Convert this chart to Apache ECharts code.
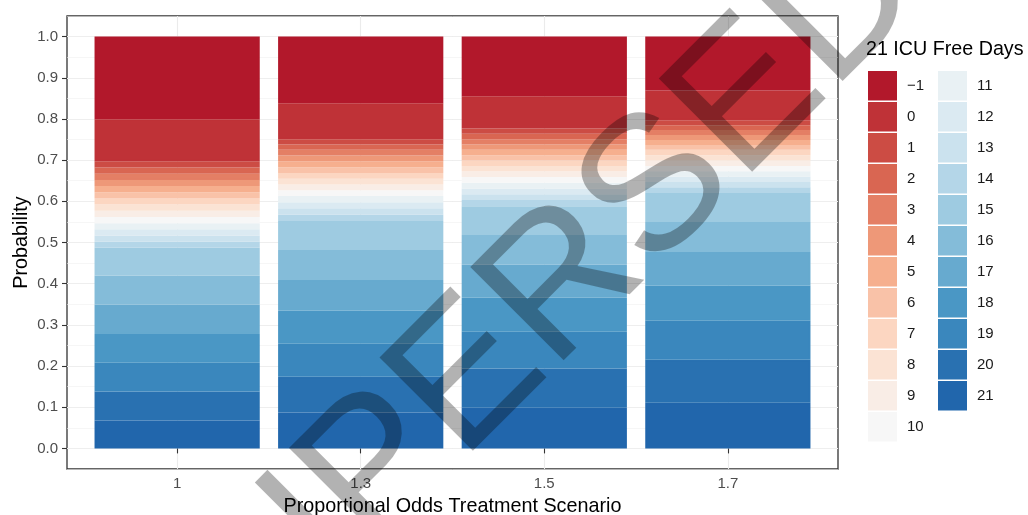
<!DOCTYPE html>
<html>
<head>
<meta charset="utf-8">
<script src="https://cdn.jsdelivr.net/npm/echarts@6/dist/echarts.min.js"></script>
<style>
  html, body { margin: 0; background: #fff; }
  #chart { width: 1028px; height: 515px; }
</style>
</head>
<body>
<div id="chart"></div>
<script>
// treatment scenarios (odds ratios) on the x axis
const scenarios = ["1", "1.3", "1.5", "1.7"];

// outcome levels, top of the stack first
const levels = ["\u22121", "0", "1", "2", "3", "4", "5", "6", "7", "8", "9", "10",
  "11", "12", "13", "14", "15", "16", "17", "18", "19", "20", "21"];

// probability of each level (same order as levels)
const probOR10 = [0.201, 0.102, 0.015, 0.015, 0.015, 0.015, 0.015, 0.015, 0.015, 0.015, 0.015, 0.015,
  0.015, 0.015, 0.015, 0.015, 0.068, 0.070, 0.071, 0.070, 0.070, 0.070, 0.068];
const probOR13 = [0.162, 0.087, 0.013, 0.013, 0.014, 0.014, 0.014, 0.014, 0.014, 0.014, 0.014, 0.014,
  0.015, 0.015, 0.015, 0.016, 0.070, 0.073, 0.075, 0.080, 0.080, 0.087, 0.087];
const probOR15 = [0.145, 0.078, 0.013, 0.013, 0.013, 0.013, 0.013, 0.013, 0.013, 0.013, 0.014, 0.014,
  0.014, 0.014, 0.014, 0.015, 0.070, 0.072, 0.080, 0.083, 0.089, 0.095, 0.099];
const probOR17 = [0.131, 0.072, 0.012, 0.012, 0.012, 0.012, 0.012, 0.012, 0.013, 0.013, 0.013, 0.013,
  0.013, 0.013, 0.013, 0.014, 0.070, 0.073, 0.082, 0.085, 0.095, 0.104, 0.111];

const yTicks = [0, 0.1, 0.2, 0.3, 0.4, 0.5, 0.6, 0.7, 0.8, 0.9, 1.0];

// RdBu ramp, one colour per level
const levelColors = ["#B2182B", "#BF3237", "#CC4C44", "#D96652", "#E47F65", "#EE9878", "#F6AF8E",
  "#F9C2A8", "#FCD6C1", "#FBE3D4", "#F9EDE6", "#F7F7F7", "#E9F1F4", "#DBEAF2", "#CBE2EE",
  "#B4D6E8", "#9ECBE1", "#84BCD9", "#67AACF", "#4A97C5", "#3A87BD", "#2971B1", "#2166AC"];

const FONT = "Liberation Sans, Arial, Helvetica, sans-serif";
const probs = [probOR10, probOR13, probOR15, probOR17];

// ECharts stacks in series order, so the bottom level (21) goes first.
// value goes in column 0 so the stack runs on y, not on the (numeric) x position
const series = [];
for (let i = levels.length - 1; i >= 0; i--) {
  series.push({
    name: levels[i],
    type: "bar",
    stack: "p",
    barWidth: "90%",
    yAxisIndex: 0,
    encode: { x: 1, y: 0 },
    // border in the same colour hides the anti-alias seams between segments
    itemStyle: { color: levelColors[i], borderColor: levelColors[i], borderWidth: 1.5 },
    emphasis: { disabled: true },
    data: scenarios.map((s, j) => [probs[j][i], j + 1])
  });
}

const legendBase = {
  orient: "vertical",
  top: 71,
  padding: 0,
  itemWidth: 29,
  itemHeight: 29.5,
  itemGap: 1.5,
  icon: "rect",
  selectedMode: false,
  itemStyle: { borderWidth: 0 },
  textStyle: { fontFamily: FONT, fontSize: 15, color: "#1a1a1a", padding: [0, 0, 0, 5] }
};

const option = {
  animation: false,
  title: {
    text: "21 ICU Free Days",
    left: 866,
    top: 40,
    padding: 0,
    textStyle: { fontFamily: FONT, fontSize: 19.7, fontWeight: "normal", color: "#000" }
  },
  legend: [
    Object.assign({}, legendBase, { left: 868, data: levels.slice(0, 12) }),
    Object.assign({}, legendBase, { left: 938, data: levels.slice(12) })
  ],
  grid: {
    left: 67, right: 190, top: 16, bottom: 46,
    outerBoundsMode: "none",
    containLabel: false,
    show: true, borderColor: "#333", borderWidth: 1.3, backgroundColor: "transparent"
  },
  xAxis: {
    type: "value",
    min: 0.4,
    max: 4.6,
    name: "Proportional Odds Treatment Scenario",
    nameLocation: "middle",
    nameGap: 28,
    nameTextStyle: { fontFamily: FONT, fontSize: 19.8, color: "#000" },
    axisLine: { show: false },
    axisTick: { show: true, length: 5, customValues: [1, 2, 3, 4], lineStyle: { color: "#333", width: 1.1 } },
    axisLabel: {
      customValues: [1, 2, 3, 4],
      margin: 7,
      fontFamily: FONT, fontSize: 15, color: "#4D4D4D",
      formatter: v => scenarios[Math.round(v) - 1]
    },
    splitLine: { show: true, lineStyle: { color: "#EBEBEB", width: 1.1 } }
  },
  yAxis: [
    {
      type: "value",
      min: -0.05,
      max: 1.05,
      name: "Probability",
      nameLocation: "middle",
      nameGap: 35,
      nameMoveOverlap: false,
      nameTextStyle: { fontFamily: FONT, fontSize: 19.8, color: "#000" },
      axisLine: { show: false },
      axisTick: { show: true, length: 5, customValues: yTicks, lineStyle: { color: "#333", width: 1.1 } },
      axisLabel: {
        customValues: yTicks,
        margin: 9,
        fontFamily: FONT, fontSize: 15, color: "#4D4D4D",
        formatter: v => v.toFixed(1)
      },
      splitLine: { show: true, lineStyle: { color: "#EBEBEB", width: 1.1 } }
    },
    {
      // minor grid only
      type: "value",
      min: -0.05,
      max: 1.05,
      interval: 0.05,
      position: "left",
      axisLine: { show: false },
      axisTick: { show: false },
      axisLabel: { show: false },
      splitLine: { show: true, lineStyle: { color: "#F0F0F0", width: 0.6 } }
    }
  ],
  graphic: [{
    type: "text",
    x: 613,
    y: 236,
    rotation: Math.PI / 4,
    z: 100,
    silent: true,
    style: {
      text: "SUPERSEDED",
      fontFamily: FONT,
      fontSize: 192,
      fill: "rgba(0,0,0,0.3)",
      align: "center",
      verticalAlign: "middle"
    }
  }],
  series: series
};

const chart = echarts.init(document.getElementById("chart"));
chart.setOption(option);
</script>
</body>
</html>
